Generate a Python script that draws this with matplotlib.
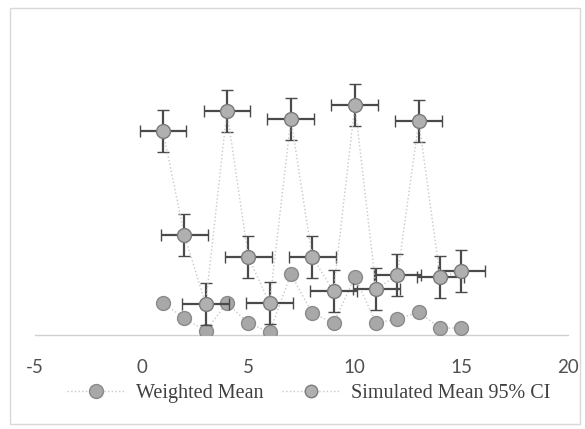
import numpy as np
import matplotlib.pyplot as plt
from matplotlib.patches import Rectangle
from matplotlib.lines import Line2D

plt.rcParams['axes.unicode_minus'] = False

# x positions shared by both series
x_vals = [1, 2, 3, 4, 5, 6, 7, 8, 9, 10, 11, 12, 13, 14, 15]

# weighted mean (no error bars)
weighted_mean = [1.6, 0.85, 0.2, 1.6, 0.6, 0.15, 3.05, 1.1, 0.6, 2.9, 0.6, 0.8, 1.15, 0.35, 0.35]

# simulated mean with 95% CI
sim_mean = [10.2, 5.0, 1.55, 11.2, 3.9, 1.6, 10.8, 3.9, 2.2, 11.5, 2.3, 3.0, 10.7, 2.9, 3.2]
sim_yerr = [1.05] * 15
sim_xerr = [1.1] * 15

x_ticks = [-5, 0, 5, 10, 15, 20]

fig = plt.figure(figsize=(5.85, 4.29), dpi=100)
ax = fig.add_axes([0.060, 0.219, 0.911, 0.734])

# Weighted mean series
ax.plot(x_vals, weighted_mean, linestyle=':', color='#c8c8c8', linewidth=1.0,
        marker='o', markersize=10, markerfacecolor='#a8a8a8', markeredgecolor='#8a8a8a',
        markeredgewidth=1.0, zorder=3)

# Simulated mean series with error bars
ax.errorbar(x_vals, sim_mean, yerr=sim_yerr, xerr=sim_xerr, fmt='o', linestyle=':',
            color='#c8c8c8', linewidth=1.0, ecolor='#4a4a4a', elinewidth=1.6, capsize=4.5,
            capthick=1.6, markersize=10, markerfacecolor='#b0b0b0', markeredgecolor='#7a7a7a',
            markeredgewidth=1.0, zorder=4)

ax.set_xlim(-5, 20)
ax.set_ylim(0, 15.75)
ax.set_xticks(x_ticks)
ax.set_yticks([])
for s in ['top', 'right', 'left']:
    ax.spines[s].set_visible(False)
ax.spines['bottom'].set_color('#d0d0d0')
ax.spines['bottom'].set_linewidth(1.0)
ax.tick_params(axis='x', length=0, pad=17, labelsize=13.5, labelcolor='#505050')
for lab in ax.get_xticklabels():
    lab.set_family('Lato')

# legend: marker on a dotted line, no error bars
h1 = Line2D([], [], linestyle=':', color='#c8c8c8', linewidth=1.0, marker='o', markersize=10,
            markerfacecolor='#a8a8a8', markeredgecolor='#8a8a8a')
h2 = Line2D([], [], linestyle=':', color='#c8c8c8', linewidth=1.0, marker='o', markersize=9,
            markerfacecolor='#b0b0b0', markeredgecolor='#7a7a7a')
leg = fig.legend([h1, h2], ['Weighted Mean', 'Simulated Mean 95% CI'], loc='center',
                 bbox_to_anchor=(0.528, 0.082), ncol=2, frameon=False, handlelength=2.9,
                 columnspacing=0.9, handletextpad=0.55,
                 prop={'family': 'Liberation Serif', 'size': 14.5})
for t in leg.get_texts():
    t.set_color('#404040')

# outer chart border
fig.patches.append(Rectangle((0.017, 0.012), 0.975, 0.97, transform=fig.transFigure,
                             fill=False, edgecolor='#d8d8d8', linewidth=1.0))

fig.savefig('out.png', dpi=100, facecolor='white')
